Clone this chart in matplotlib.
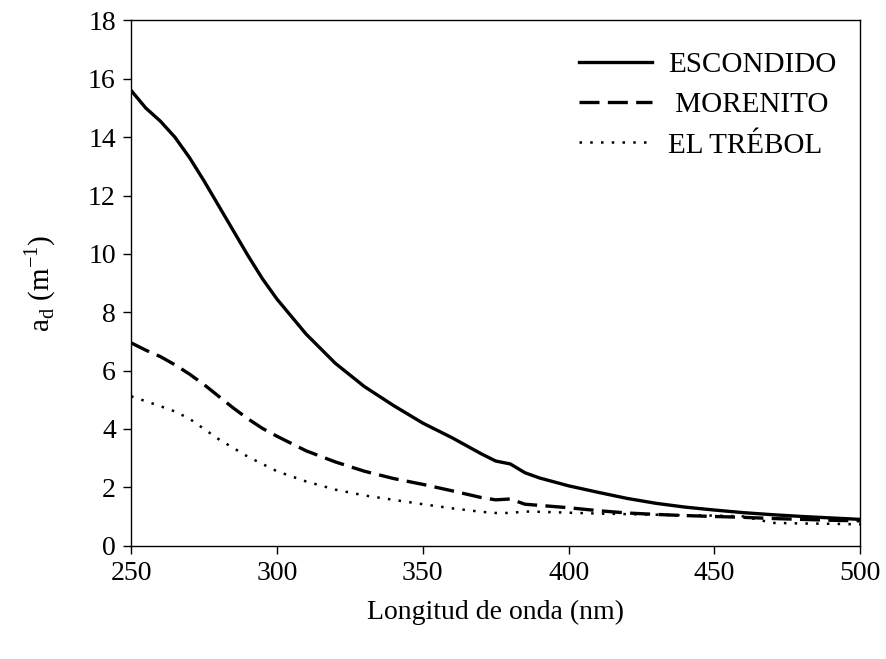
import matplotlib
matplotlib.use("Agg")
import matplotlib.pyplot as plt

plt.rcParams['font.family'] = ['Liberation Serif', 'DejaVu Serif']
plt.rcParams['mathtext.fontset'] = 'custom'
plt.rcParams['mathtext.rm'] = 'Liberation Serif'

longitud = [250, 255, 260, 265, 270, 275, 280, 285, 290, 295, 300, 310, 320, 330,
            340, 350, 360, 370, 375, 380, 385, 390, 400, 410, 420, 430, 440, 450,
            460, 470, 480, 490, 500]

escondido = [15.6, 15.0, 14.55, 14.0, 13.3, 12.5, 11.65, 10.8, 9.95, 9.15, 8.45,
             7.25, 6.25, 5.45, 4.8, 4.2, 3.7, 3.15, 2.9, 2.8, 2.5, 2.32, 2.05,
             1.83, 1.62, 1.45, 1.32, 1.22, 1.13, 1.06, 1.0, 0.95, 0.9]

morenito = [6.95, 6.7, 6.48, 6.2, 5.88, 5.52, 5.12, 4.72, 4.35, 4.02, 3.75,
            3.25, 2.87, 2.55, 2.3, 2.1, 1.88, 1.65, 1.57, 1.6, 1.42, 1.38, 1.3,
            1.2, 1.12, 1.07, 1.03, 1.0, 0.97, 0.93, 0.9, 0.87, 0.85]

trebol = [5.12, 4.95, 4.78, 4.6, 4.35, 4.0, 3.65, 3.35, 3.05, 2.8, 2.55,
          2.2, 1.92, 1.72, 1.57, 1.42, 1.28, 1.16, 1.12, 1.12, 1.17, 1.16, 1.13,
          1.1, 1.08, 1.06, 1.04, 1.03, 1.0, 0.78, 0.76, 0.75, 0.73]

fig = plt.figure(figsize=(8.86, 6.59), dpi=100)
ax = fig.add_axes([0.148, 0.172, 0.823, 0.797])

ax.plot(longitud, escondido, color='black', linewidth=2.4, label='ESCONDIDO')
ax.plot(longitud, morenito, color='black', linewidth=2.4,
        linestyle=(0, (6.0, 2.5)), label=' MORENITO')
ax.plot(longitud, trebol, color='black', linewidth=1.8,
        linestyle=(0, (1, 3.3)), label='EL TRÉBOL')

ax.set_xlim(250, 500)
ax.set_ylim(0, 18)
ax.set_xticks(range(250, 501, 50))
ax.set_yticks(range(0, 19, 2))
ax.tick_params(direction='out', length=6, width=1, labelsize=20, pad=5,
               top=False, right=False)
for s in ax.spines.values():
    s.set_linewidth(1)

ax.set_xlabel('Longitud de onda (nm)', fontsize=20, labelpad=10)
ax.set_ylabel(r'a$_\mathregular{d}$ (m$^\mathregular{-1}$)', fontsize=21, labelpad=22)

ax.legend(loc='upper right', frameon=False, fontsize=21, handlelength=2.5,
          handletextpad=0.55, labelspacing=0.47, borderaxespad=0.5,
          bbox_to_anchor=(1.003, 0.99))

fig.savefig('out.png', dpi=100)
